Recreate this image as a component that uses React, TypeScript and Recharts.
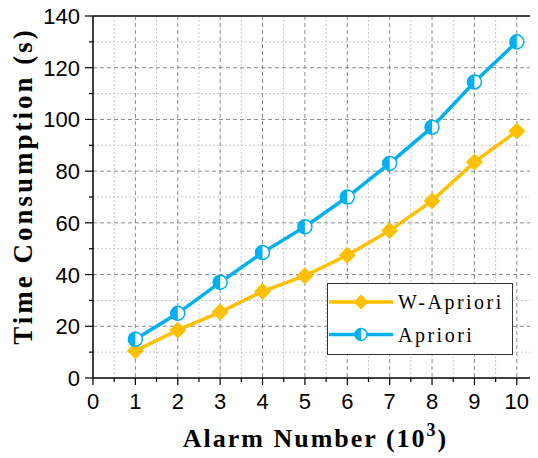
import React from "react";
import {
  LineChart,
  Line,
  XAxis,
  YAxis,
  CartesianGrid,
  ReferenceLine,
} from "recharts";

// Alarm number (10^3) vs. time consumption (s)
const alarmNumbers = [1, 2, 3, 4, 5, 6, 7, 8, 9, 10];
const wApriori = [10.5, 18.5, 25.5, 33.5, 39.5, 47.5, 57, 68.5, 83.5, 95.5];
const apriori = [15, 25, 37, 48.5, 58.5, 70, 83, 97, 114.5, 130];

const xTicks = [0, 0.5, 1, 1.5, 2, 2.5, 3, 3.5, 4, 4.5, 5, 5.5, 6, 6.5, 7, 7.5, 8, 8.5, 9, 9.5, 10, 10.5];
const yTicks = [0, 10, 20, 30, 40, 50, 60, 70, 80, 90, 100, 110, 120, 130, 140];
const xMajorGrid = [1, 2, 3, 4, 5, 6, 7, 8, 9, 10];
const xMinorGrid = [0.5, 1.5, 2.5, 3.5, 4.5, 5.5, 6.5, 7.5, 8.5, 9.5];
const yMajorGrid = [20, 40, 60, 80, 100, 120];
const yMinorGrid = [10, 30, 50, 70, 90, 110, 130];

const ORANGE = "#FFC000";
const BLUE = "#00B0F0";
const SANS = "'Liberation Sans', Arial, sans-serif";
const SERIF = "'Liberation Serif', 'Times New Roman', serif";

const data = alarmNumbers.map((n, i) => ({
  n,
  wApriori: wApriori[i],
  apriori: apriori[i],
}));

const XTick = (props: any) => {
  const { x, y, payload } = props;
  const v = payload.value as number;
  const major = Number.isInteger(v);
  return (
    <g>
      <line x1={x} x2={x} y1={y} y2={y + (major ? 7 : 4)} stroke="#000" strokeWidth={1.2} />
      {major && (
        <text x={x} y={y + 30.5} textAnchor="middle" fontFamily={SANS} fontSize={22} fill="#000">
          {v}
        </text>
      )}
    </g>
  );
};

const YTick = (props: any) => {
  const { x, y, payload } = props;
  const v = payload.value as number;
  const major = v % 20 === 0;
  return (
    <g>
      <line x1={x} x2={x - (major ? 8 : 4)} y1={y} y2={y} stroke="#000" strokeWidth={1.2} />
      {major && (
        <text x={x - 13} y={y + 8} textAnchor="end" fontFamily={SANS} fontSize={22} fill="#000">
          {v}
        </text>
      )}
    </g>
  );
};

const Diamond = ({ cx, cy, r = 8, color = ORANGE }: any) => (
  <polygon
    points={`${cx},${cy - r} ${cx + r},${cy} ${cx},${cy + r} ${cx - r},${cy}`}
    fill={color}
    stroke={color}
    strokeWidth={1}
  />
);

const HalfCircle = ({ cx, cy, r = 7, color = BLUE }: any) => (
  <g>
    <circle cx={cx} cy={cy} r={r} fill="#fff" stroke={color} strokeWidth={1.5} />
    <path d={`M${cx},${cy - r} A${r},${r} 0 0 0 ${cx},${cy + r} Z`} fill={color} />
  </g>
);

const legendItems = [
  { name: "W-Apriori", color: ORANGE, marker: "diamond" },
  { name: "Apriori", color: BLUE, marker: "half" },
];

// legend drawn as an overlay so it doesn't eat into the plot area
const LegendBox = () => (
  <svg
    width={184}
    height={70}
    style={{ position: "absolute", left: 319, top: 275, border: "1.5px solid #333", background: "#fff" }}
  >
    {legendItems.map((it, i) => {
      const cy = 18 + i * 32.5;
      return (
        <g key={it.name}>
          <line x1={1} x2={65} y1={cy} y2={cy} stroke={it.color} strokeWidth={3.5} />
          {it.marker === "diamond" ? (
            <Diamond cx={33} cy={cy} r={7} color={it.color} />
          ) : (
            <HalfCircle cx={33} cy={cy} r={6} color={it.color} />
          )}
          <text x={70} y={cy + 7} fontFamily={SERIF} fontSize={20} letterSpacing={2.5} fill="#000">
            {it.name}
          </text>
        </g>
      );
    })}
  </svg>
);

export default function App() {
  return (
    <div style={{ position: "relative", width: 530, height: 450 }}>
      <LineChart
        width={530}
        height={450}
        data={data}
        margin={{ top: 8, right: 0, left: 0, bottom: 0 }}
        style={{ background: "#fff" }}
      >
        <CartesianGrid
          stroke="#c8c8c8"
          strokeDasharray="2 2"
          horizontalValues={yMinorGrid}
          verticalValues={xMinorGrid}
        />
        <CartesianGrid
          stroke="#8a8a8a"
          strokeDasharray="4 3"
          horizontalValues={yMajorGrid}
          verticalValues={xMajorGrid}
        />
        <XAxis
          dataKey="n"
          type="number"
          domain={[0, 10.5]}
          ticks={xTicks}
          interval={0}
          height={80}
          tickSize={0}
          tickMargin={0}
          tickLine={false}
          axisLine={{ stroke: "#000", strokeWidth: 1.5 }}
          tick={<XTick />}
          label={({ viewBox }: any) => (
            <text
              x={viewBox.x + viewBox.width / 2}
              y={viewBox.y + 69}
              textAnchor="middle"
              fontFamily={SERIF}
              fontWeight="bold"
              fontSize={26}
              letterSpacing={2}
              fill="#000"
            >
              Alarm Number (10
              <tspan fontSize={18} dy={-11}>3</tspan>
              <tspan dy={11}>)</tspan>
            </text>
          )}
        />
        <YAxis
          type="number"
          domain={[0, 140]}
          ticks={yTicks}
          interval={0}
          width={85}
          tickSize={0}
          tickMargin={0}
          tickLine={false}
          axisLine={{ stroke: "#000", strokeWidth: 1.5 }}
          tick={<YTick />}
          label={() => (
            <text
              x={24}
              y={178}
              transform={`rotate(-90 24 178)`}
              textAnchor="middle"
              fontFamily={SERIF}
              fontWeight="bold"
              fontSize={27}
              letterSpacing={3}
              fill="#000"
            >
              Time Consumption (s)
            </text>
          )}
        />
        <ReferenceLine y={140} stroke="#444" strokeWidth={2} />
        <Line
          dataKey="wApriori"
          name="W-Apriori"
          type="linear"
          stroke={ORANGE}
          strokeWidth={3.5}
          dot={(p: any) => <Diamond key={`w${p.index}`} cx={p.cx} cy={p.cy} />}
          isAnimationActive={false}
        />
        <Line
          dataKey="apriori"
          name="Apriori"
          type="linear"
          stroke={BLUE}
          strokeWidth={3.5}
          dot={(p: any) => <HalfCircle key={`a${p.index}`} cx={p.cx} cy={p.cy} />}
          isAnimationActive={false}
        />
      </LineChart>
      <LegendBox />
    </div>
  );
}
